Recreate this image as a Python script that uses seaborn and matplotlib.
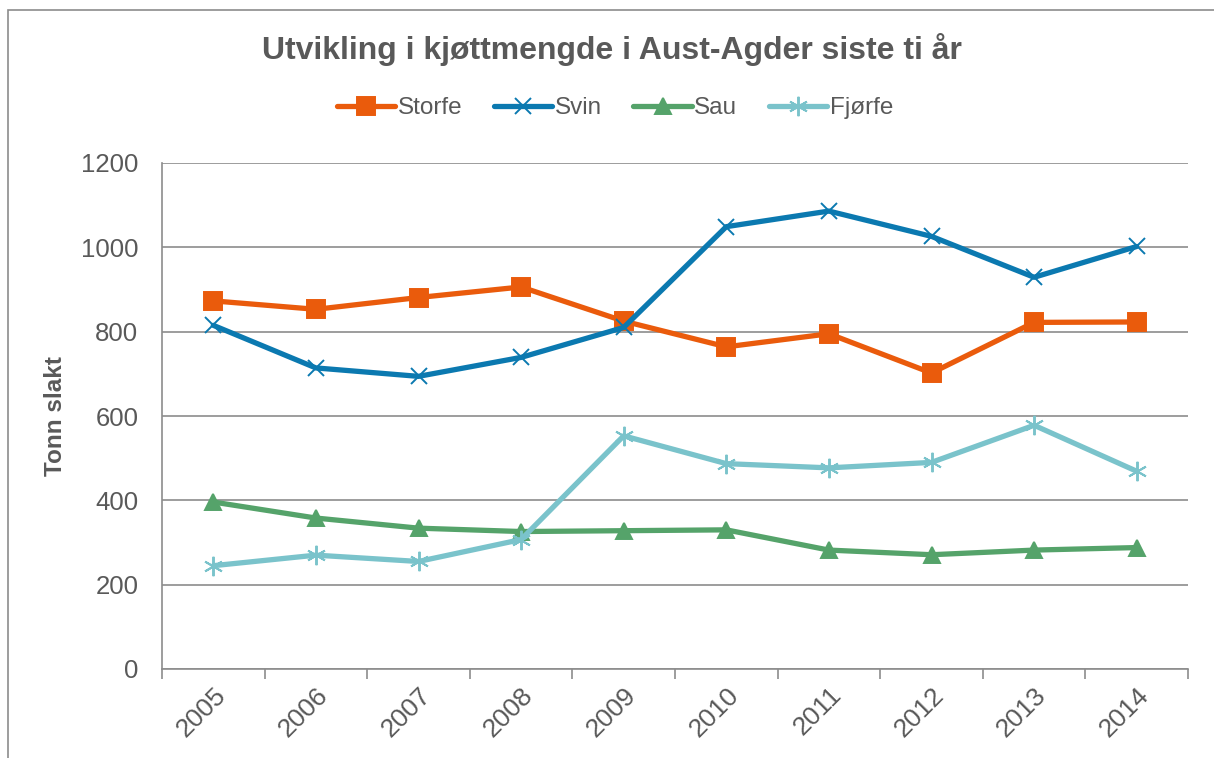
import matplotlib
matplotlib.use("Agg")
import matplotlib.pyplot as plt
import seaborn as sns
import pandas as pd
from matplotlib.patches import Rectangle

years = ["2005", "2006", "2007", "2008", "2009", "2010", "2011", "2012", "2013", "2014"]
storfe = [873, 853, 881, 906, 825, 764, 795, 702, 822, 823]
svin = [815, 714, 694, 739, 810, 1049, 1086, 1026, 929, 1002]
sau = [396, 358, 334, 326, 328, 330, 282, 271, 282, 288]
fjorfe = [245, 270, 255, 307, 553, 487, 477, 490, 578, 469]

series_names = ["Storfe", "Svin", "Sau", "Fjørfe"]
series_values = [storfe, svin, sau, fjorfe]
colors = ["#EA5B0C", "#0B79B0", "#55A36A", "#7AC3CB"]
markers = ["s", "x", "^", (6, 2, 0)]
msizes = [13, 12, 12, 14]

rows = []
for name, vals in zip(series_names, series_values):
    for i, v in enumerate(vals):
        rows.append({"idx": i, "year": years[i], "value": v, "serie": name})
df = pd.DataFrame(rows)

sns.set_theme(style="white")
plt.rcParams["font.family"] = ["Liberation Sans", "DejaVu Sans"]
txt = "#595959"

fig = plt.figure(figsize=(12.14, 7.58), dpi=100)
ax = fig.add_axes([162 / 1214, 1 - 669 / 758, (1188 - 162) / 1214, (669 - 163) / 758])

for name, c, m, ms in zip(series_names, colors, markers, msizes):
    sub = df[df["serie"] == name]
    sns.lineplot(data=sub, x="idx", y="value", ax=ax, color=c, linewidth=3.8,
                 marker=m, markersize=ms, markeredgecolor=c, markerfacecolor=c,
                 markeredgewidth=1.4, label=name, solid_capstyle="round")

ax.set_xlim(-0.5, 9.5)
ax.set_ylim(0, 1200)
ax.set_yticks([0, 200, 400, 600, 800, 1000, 1200])
ax.yaxis.grid(True, color="#8C8C8C", linewidth=1.2)
ax.xaxis.grid(False)
ax.set_xticks([i - 0.5 for i in range(11)])
ax.set_xticklabels([])
ax.set_xticks(range(10), minor=True)
ax.set_xticklabels(years, minor=True, rotation=45, ha="right", rotation_mode="anchor",
                   fontsize=19, color=txt)
ax.tick_params(axis="x", which="major", length=7, width=1.2, color="#8C8C8C", direction="out", bottom=True)
ax.tick_params(axis="x", which="minor", length=0, pad=10, bottom=True)
ax.tick_params(axis="y", labelsize=18.5, labelcolor=txt, length=0, pad=17)
for s in ["top", "right"]:
    ax.spines[s].set_visible(False)
for s in ["left", "bottom"]:
    ax.spines[s].set_color("#8C8C8C")
    ax.spines[s].set_linewidth(1.2)
ax.set_xlabel("")
ax.set_ylabel("Tonn slakt", fontsize=17.5, fontweight="bold", color=txt, labelpad=10)

fig.suptitle("Utvikling i kjøttmengde i Aust-Agder siste ti år", x=612 / 1214, y=1 - 50 / 758,
             va="center", fontsize=23, fontweight="bold", color=txt)

ax.legend_.remove()
handles, labels = ax.get_legend_handles_labels()
leg = fig.legend(handles, labels, loc="center", bbox_to_anchor=(615 / 1214, 1 - 108 / 758),
                 ncol=4, frameon=False, fontsize=17.5, handlelength=2.4, handletextpad=0.1,
                 columnspacing=1.3)
for t in leg.get_texts():
    t.set_color(txt)

fig.patches.append(Rectangle((8 / 1214, -0.05), 1.1, 1 - 10 / 758 + 0.05, transform=fig.transFigure,
                             fill=False, edgecolor="#8C8C8C", linewidth=1.2))

fig.savefig("out.png", dpi=100)
